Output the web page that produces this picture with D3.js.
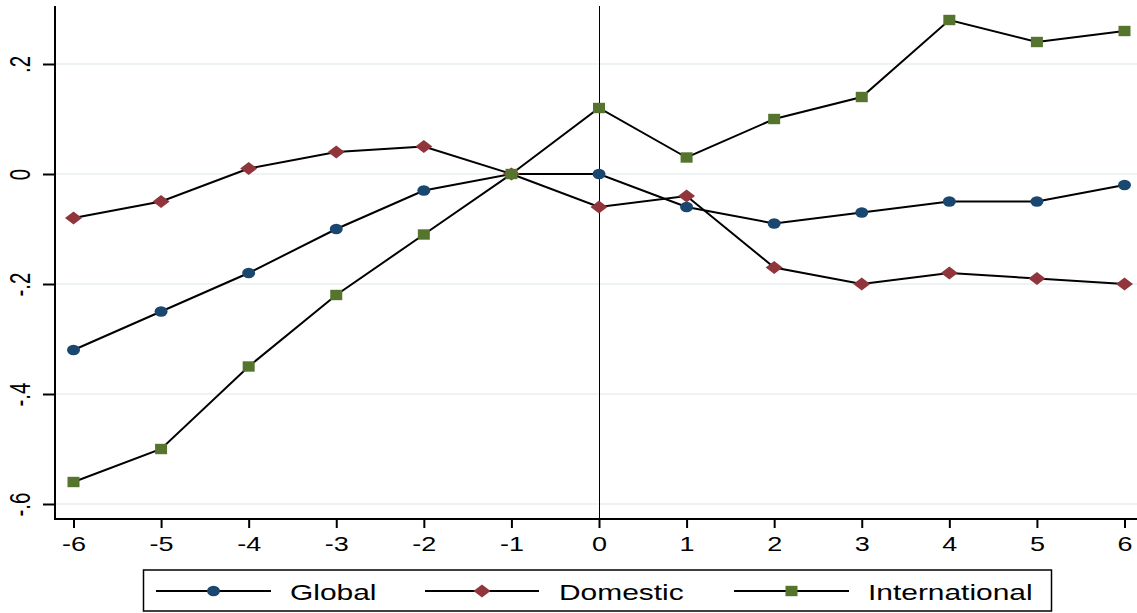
<!DOCTYPE html>
<html>
<head>
<meta charset="utf-8">
<script src="https://cdn.jsdelivr.net/npm/d3@7"></script>
<style>
  html, body { margin: 0; padding: 0; background: #fff; }
  svg { display: block; font-family: "Liberation Sans", Arial, Helvetica, sans-serif; }
</style>
</head>
<body>
<svg id="chart" width="1137" height="613"></svg>
<script>
// Event-time axis and tick labels
const periods = [-6, -5, -4, -3, -2, -1, 0, 1, 2, 3, 4, 5, 6];
const yTicks = [-0.6, -0.4, -0.2, 0, 0.2];
const yTickLabels = ["-.6", "-.4", "-.2", "0", ".2"];

// Estimated coefficients by event period
const globalValues = [-0.32, -0.25, -0.18, -0.10, -0.03, 0, 0, -0.06, -0.09, -0.07, -0.05, -0.05, -0.02];
const domesticValues = [-0.08, -0.05, 0.01, 0.04, 0.05, 0, -0.06, -0.04, -0.17, -0.20, -0.18, -0.19, -0.20];
const internationalValues = [-0.56, -0.50, -0.35, -0.22, -0.11, 0, 0.12, 0.03, 0.10, 0.14, 0.28, 0.24, 0.26];

const seriesNames = ["Global", "Domestic", "International"];
const seriesValues = [globalValues, domesticValues, internationalValues];

const colors = { Global: "#1a476f", Domestic: "#90353b", International: "#55752f" };
const shapes = { Global: "circle", Domestic: "diamond", International: "square" };

const svg = d3.select("#chart");
const plot = { left: 55, right: 1137, top: 6, bottom: 519 };

const x = d3.scaleLinear().domain([-6, 6]).range([73.5, 1124.5]);
const y = d3.scaleLinear().domain([0, 0.2]).range([174, 64]);

// Horizontal grid lines
svg.append("g")
  .selectAll("line")
  .data(yTicks)
  .join("line")
  .attr("x1", plot.left).attr("x2", plot.right)
  .attr("y1", d => y(d)).attr("y2", d => y(d))
  .attr("stroke", "#e8eff1").attr("stroke-width", 1.5);

// Reference line at period 0
svg.append("line")
  .attr("x1", x(0) + 0.5).attr("x2", x(0) + 0.5)
  .attr("y1", plot.top).attr("y2", plot.bottom)
  .attr("stroke", "#000").attr("stroke-width", 1)
  .attr("shape-rendering", "crispEdges");

// Y axis
const yAxis = d3.axisLeft(y)
  .tickValues(yTicks)
  .tickFormat((d, i) => yTickLabels[i])
  .tickSize(12)
  .tickSizeOuter(0);
const gy = svg.append("g").attr("transform", `translate(${plot.left},0)`).call(yAxis);
gy.select(".domain").remove();
gy.append("line")
  .attr("x1", 0).attr("x2", 0).attr("y1", plot.top).attr("y2", plot.bottom + 1)
  .attr("stroke", "#000").attr("stroke-width", 2);
gy.selectAll(".tick line").attr("stroke", "#000").attr("stroke-width", 2);
gy.selectAll(".tick text")
  .attr("font-size", 20.5)
  .attr("fill", "#000")
  .attr("text-anchor", "middle")
  .attr("x", 0).attr("y", 0).attr("dy", null)
  .attr("transform", "translate(-25.5,0) rotate(-90) scale(1,1.42)");

// X axis
const xAxis = d3.axisBottom(x)
  .tickValues(periods)
  .tickFormat(d3.format("d"))
  .tickSize(9)
  .tickSizeOuter(0);
const gx = svg.append("g").attr("transform", `translate(0,${plot.bottom})`).call(xAxis);
gx.select(".domain").remove();
gx.append("line")
  .attr("x1", plot.left - 1).attr("x2", plot.right).attr("y1", 0).attr("y2", 0)
  .attr("stroke", "#000").attr("stroke-width", 2);
gx.selectAll(".tick line").attr("stroke", "#000").attr("stroke-width", 2);
gx.selectAll(".tick text")
  .attr("font-size", 20)
  .attr("fill", "#000")
  .attr("x", 0).attr("y", 0).attr("dy", null)
  .attr("transform", "translate(0,32) scale(1.35,1)");
svg.selectAll(".tick text").text(function() { return this.textContent.replace("−", "-"); });

// Marker drawing
function drawMarker(sel, shape, color) {
  if (shape === "circle") {
    sel.append("ellipse").attr("rx", 6.5).attr("ry", 5.2).attr("fill", color);
  } else if (shape === "diamond") {
    sel.append("path").attr("d", "M0,-6.5 L8.5,0 L0,6.5 L-8.5,0 Z").attr("fill", color);
  } else {
    sel.append("rect").attr("x", -6).attr("y", -5.2).attr("width", 12).attr("height", 10.4).attr("fill", color);
  }
}

const line = d3.line().x(d => x(d[0])).y(d => y(d[1]));

seriesNames.forEach((name, si) => {
  const pts = periods.map((p, i) => [p, seriesValues[si][i]]);
  const g = svg.append("g");
  g.append("path")
    .attr("d", line(pts))
    .attr("fill", "none")
    .attr("stroke", "#000")
    .attr("stroke-width", 2);
  g.selectAll("g.m")
    .data(pts)
    .join("g")
    .attr("class", "m")
    .attr("transform", d => `translate(${x(d[0])},${y(d[1])})`)
    .each(function() { drawMarker(d3.select(this), shapes[name], colors[name]); });
});

// Legend
const legend = svg.append("g");
legend.append("rect")
  .attr("x", 143.5).attr("y", 570).attr("width", 908).attr("height", 41)
  .attr("fill", "#fff").attr("stroke", "#000").attr("stroke-width", 1.5);
const legendItems = [
  { name: "Global", x1: 156, x2: 271, tx: 290 },
  { name: "Domestic", x1: 425, x2: 539, tx: 559 },
  { name: "International", x1: 734, x2: 849, tx: 868 }
];
legendItems.forEach(it => {
  const ly = 591;
  legend.append("line")
    .attr("x1", it.x1).attr("x2", it.x2).attr("y1", ly).attr("y2", ly)
    .attr("stroke", "#000").attr("stroke-width", 2);
  const m = legend.append("g").attr("transform", `translate(${(it.x1 + it.x2) / 2},${ly})`);
  drawMarker(m, shapes[it.name], colors[it.name]);
  legend.append("text")
    .attr("x", 0).attr("y", 0)
    .attr("transform", `translate(${it.tx},600) scale(1.36,1)`)
    .attr("font-size", 22).attr("fill", "#000")
    .text(it.name);
});
</script>
</body>
</html>
